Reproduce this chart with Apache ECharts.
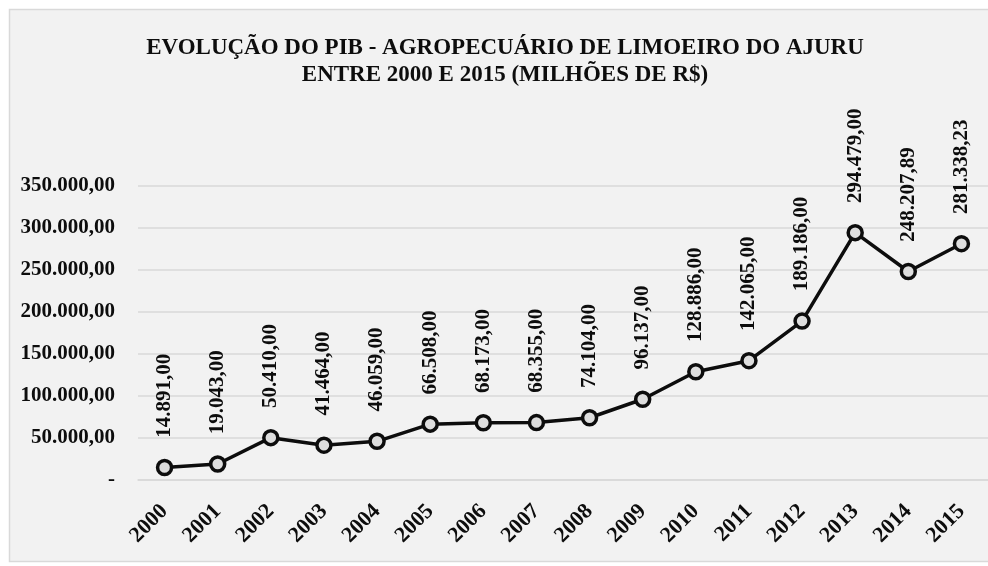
<!DOCTYPE html>
<html>
<head>
<meta charset="utf-8">
<script src="https://cdn.jsdelivr.net/npm/echarts@6/dist/echarts.min.js"></script>
<style>
  html, body { margin: 0; padding: 0; background: #ffffff; }
  #chart { width: 988px; height: 566px; }
</style>
</head>
<body>
<div id="chart"></div>
<script>
// anos e PIB agropecuário (milhões de R$)
var years = ['2000', '2001', '2002', '2003', '2004', '2005', '2006', '2007',
  '2008', '2009', '2010', '2011', '2012', '2013', '2014', '2015'];
var pib = [14891, 19043, 50410, 41464, 46059, 66508, 68173, 68355,
  74104, 96137, 128886, 142065, 189186, 294479, 248207.89, 281338.23];
var yTicks = { min: 0, max: 350000, step: 50000 };

var serif = "'Liberation Serif', 'Times New Roman', serif";

function fmt(v) {
  var parts = v.toFixed(2).split('.');
  return parts[0].replace(/\B(?=(\d{3})+(?!\d))/g, '.') + ',' + parts[1];
}

var chart = echarts.init(document.getElementById('chart'));
chart.setOption({
  animation: false,
  graphic: [{
    type: 'rect',
    z: -10,
    shape: { x: 9.5, y: 9.5, width: 990, height: 552 },
    style: { fill: '#f2f2f2', stroke: '#d9d9d9', lineWidth: 1.5 }
  }],
  title: {
    text: 'EVOLUÇÃO DO PIB - AGROPECUÁRIO DE LIMOEIRO DO AJURU\nENTRE 2000 E 2015 (MILHÕES DE R$)',
    left: 500,
    textAlign: 'center',
    top: 30,
    textStyle: {
      fontFamily: serif,
      fontWeight: 'bold',
      fontSize: 23,
      lineHeight: 27,
      color: '#0d0d0d'
    }
  },
  grid: { left: 138, top: 186, width: 852, bottom: 86, containLabel: false },
  xAxis: {
    type: 'category',
    data: years,
    boundaryGap: true,
    axisLine: { show: true, lineStyle: { color: '#d9d9d9', width: 1.5 } },
    axisTick: { show: false },
    axisLabel: {
      rotate: 45,
      margin: 28,
      fontFamily: serif,
      fontWeight: 'bold',
      fontSize: 22,
      color: '#0d0d0d'
    }
  },
  yAxis: {
    type: 'value',
    min: yTicks.min,
    max: yTicks.max,
    interval: yTicks.step,
    axisLine: { show: false },
    axisTick: { show: false },
    splitLine: { lineStyle: { color: '#d9d9d9', width: 1.5 } },
    axisLabel: {
      margin: 23,
      fontFamily: serif,
      fontWeight: 'bold',
      fontSize: 21,
      color: '#0d0d0d',
      formatter: function (v) { return v === 0 ? '-' : fmt(v); }
    }
  },
  series: [{
    type: 'line',
    data: pib,
    symbol: 'circle',
    symbolSize: 14,
    lineStyle: { color: '#0d0d0d', width: 3.5 },
    itemStyle: { color: '#dedede', borderColor: '#0d0d0d', borderWidth: 3.5 },
    label: {
      show: true,
      position: 'top',
      distance: 21,
      rotate: 90,
      align: 'left',
      verticalAlign: 'middle',
      fontFamily: serif,
      fontWeight: 'bold',
      fontSize: 21,
      color: '#0d0d0d',
      formatter: function (p) { return fmt(p.value); }
    }
  }]
});
</script>
</body>
</html>
